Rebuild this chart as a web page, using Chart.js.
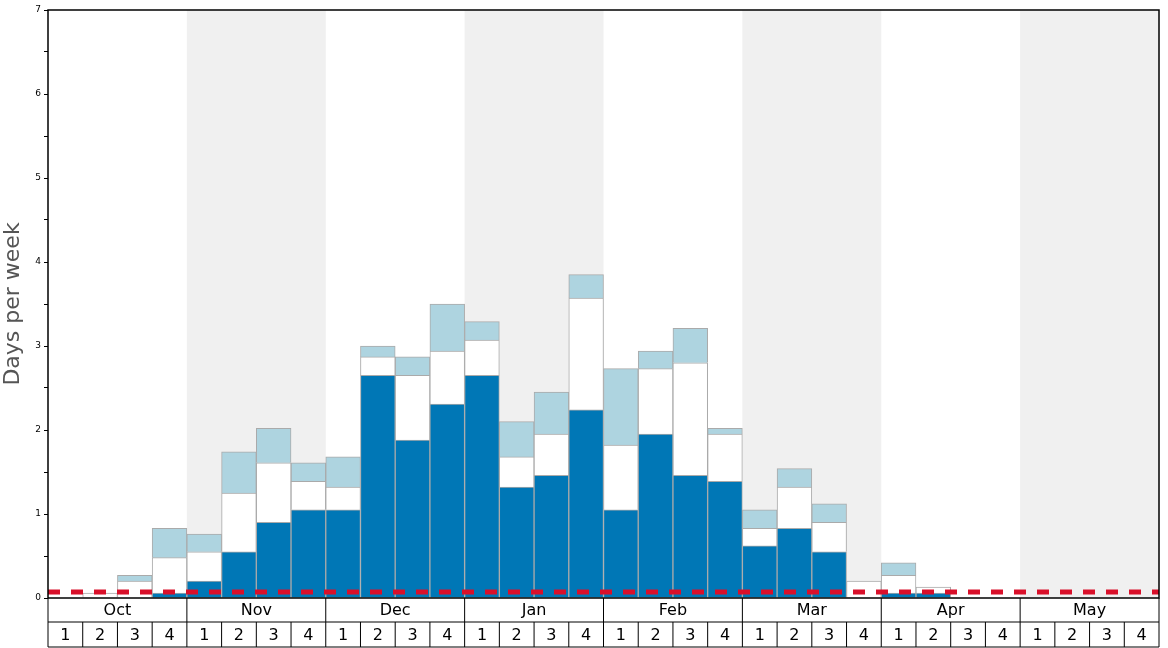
<!DOCTYPE html>
<html>
<head>
<meta charset="utf-8">
<script src="https://cdn.jsdelivr.net/npm/chart.js@4/dist/chart.umd.min.js"></script>
<style>
  body { margin: 0; background: #fff; }
  #wrap { width: 1168px; height: 648px; }
</style>
</head>
<body>
<div id="wrap"><canvas id="chart"></canvas></div>
<script>
const months = ['Oct', 'Nov', 'Dec', 'Jan', 'Feb', 'Mar', 'Apr', 'May'];
const weekLabels = ['1', '2', '3', '4'];
const threshold = 0.07;

// segment heights per week (stacked bottom -> top)
const darkDays = [0, 0, 0, 0.06, 0.2, 0.55, 0.9, 1.05, 1.05, 2.65, 1.88, 2.31, 2.65, 1.32, 1.46, 2.24,
    1.05, 1.95, 1.46, 1.39, 0.62, 0.83, 0.55, 0, 0.06, 0.06, 0, 0, 0, 0, 0, 0];
const whiteDays = [0, 0.06, 0.2, 0.42, 0.35, 0.7, 0.71, 0.34, 0.27, 0.22, 0.77, 0.63, 0.42, 0.36, 0.49, 1.33,
    0.77, 0.78, 1.34, 0.56, 0.21, 0.49, 0.35, 0.2, 0.21, 0.07, 0, 0, 0, 0, 0, 0];
const lightDays = [0, 0, 0.07, 0.35, 0.21, 0.49, 0.41, 0.22, 0.36, 0.13, 0.22, 0.56, 0.22, 0.42, 0.5, 0.28,
    0.91, 0.21, 0.41, 0.07, 0.22, 0.22, 0.22, 0, 0.15, 0, 0, 0, 0, 0, 0, 0];

const categories = [];
months.forEach(m => weekLabels.forEach(w => categories.push(m + ' ' + w)));

// shading, threshold line, frame and the two-row month/week axis
const decorations = {
    id: 'decorations',
    beforeDatasetsDraw(chart) {
        const { ctx, chartArea: a, scales: { x } } = chart;
        const half = (x.getPixelForValue(1) - x.getPixelForValue(0)) / 2;
        ctx.save();
        ctx.fillStyle = '#f0f0f0';
        months.forEach((m, i) => {
            if (i % 2 === 1) {
                const l = x.getPixelForValue(i * 4) - half;
                const r = x.getPixelForValue(i * 4 + 3) + half;
                ctx.fillRect(l, a.top, r - l, a.bottom - a.top);
            }
        });
        ctx.restore();
    },
    afterDatasetsDraw(chart) {
        const { ctx, chartArea: a, scales: { x, y } } = chart;
        const half = (x.getPixelForValue(1) - x.getPixelForValue(0)) / 2;
        ctx.save();
        // threshold
        const ty = y.getPixelForValue(threshold);
        ctx.strokeStyle = '#d9102a';
        ctx.lineWidth = 5;
        ctx.setLineDash([12, 11]);
        ctx.beginPath();
        ctx.moveTo(a.left, ty);
        ctx.lineTo(a.right, ty);
        ctx.stroke();
        ctx.setLineDash([]);
        // frame
        ctx.strokeStyle = '#000';
        ctx.lineWidth = 1.5;
        ctx.strokeRect(a.left, a.top, a.right - a.left, a.bottom - a.top);
        // bottom rows
        const row1 = a.bottom + 24, row2 = a.bottom + 49;
        ctx.beginPath();
        ctx.moveTo(a.left, row1); ctx.lineTo(a.right, row1);
        ctx.moveTo(a.left, row2); ctx.lineTo(a.right, row2);
        ctx.moveTo(a.left, a.bottom); ctx.lineTo(a.left, row2);
        ctx.moveTo(a.right, a.bottom); ctx.lineTo(a.right, row2);
        ctx.lineWidth = 1;
        categories.forEach((c, i) => {
            const l = x.getPixelForValue(i) - half;
            if (i > 0) {
                ctx.moveTo(l, i % 4 === 0 ? a.bottom : row1);
                ctx.lineTo(l, row2);
            }
        });
        ctx.stroke();
        ctx.fillStyle = '#000';
        ctx.font = '16px "DejaVu Sans"';
        ctx.textAlign = 'center';
        ctx.textBaseline = 'middle';
        months.forEach((m, i) => {
            const cx = (x.getPixelForValue(i * 4) + x.getPixelForValue(i * 4 + 3)) / 2;
            ctx.fillText(m, cx, (a.bottom + row1) / 2 + 1);
        });
        categories.forEach((c, i) => {
            ctx.fillText(weekLabels[i % 4], x.getPixelForValue(i), (row1 + row2) / 2 + 1);
        });
        ctx.restore();
    }
};

const barStyle = { borderColor: '#aaaaaa', borderWidth: 1, barPercentage: 1, categoryPercentage: 1 };

new Chart(document.getElementById('chart'), {
    type: 'bar',
    data: {
        labels: categories,
        datasets: [
            { label: 'dark', data: darkDays, backgroundColor: '#0077b6', ...barStyle },
            { label: 'white', data: whiteDays, backgroundColor: '#ffffff', ...barStyle },
            { label: 'light', data: lightDays, backgroundColor: '#aed4e0', ...barStyle }
        ]
    },
    options: {
        responsive: true,
        maintainAspectRatio: false,
        animation: false,
        layout: { padding: { top: 10, right: 9, bottom: 50 } },
        plugins: { legend: { display: false }, tooltip: { enabled: false } },
        scales: {
            x: { stacked: true, display: false },
            y: {
                stacked: true,
                min: 0,
                max: 7,
                afterFit(s) { s.width = 48; },
                grid: { drawOnChartArea: false, drawTicks: true, tickLength: 4, color: '#000' },
                border: { display: false },
                ticks: {
                    stepSize: 0.5,
                    autoSkip: false,
                    color: '#000',
                    font: { size: 9, family: 'DejaVu Sans' },
                    callback: v => Number.isInteger(v) ? v : ''
                },
                title: {
                    display: true,
                    text: 'Days per week',
                    color: '#555',
                    font: { size: 22, family: 'DejaVu Sans' },
                    padding: 0
                }
            }
        }
    },
    plugins: [decorations]
});
</script>
</body>
</html>
